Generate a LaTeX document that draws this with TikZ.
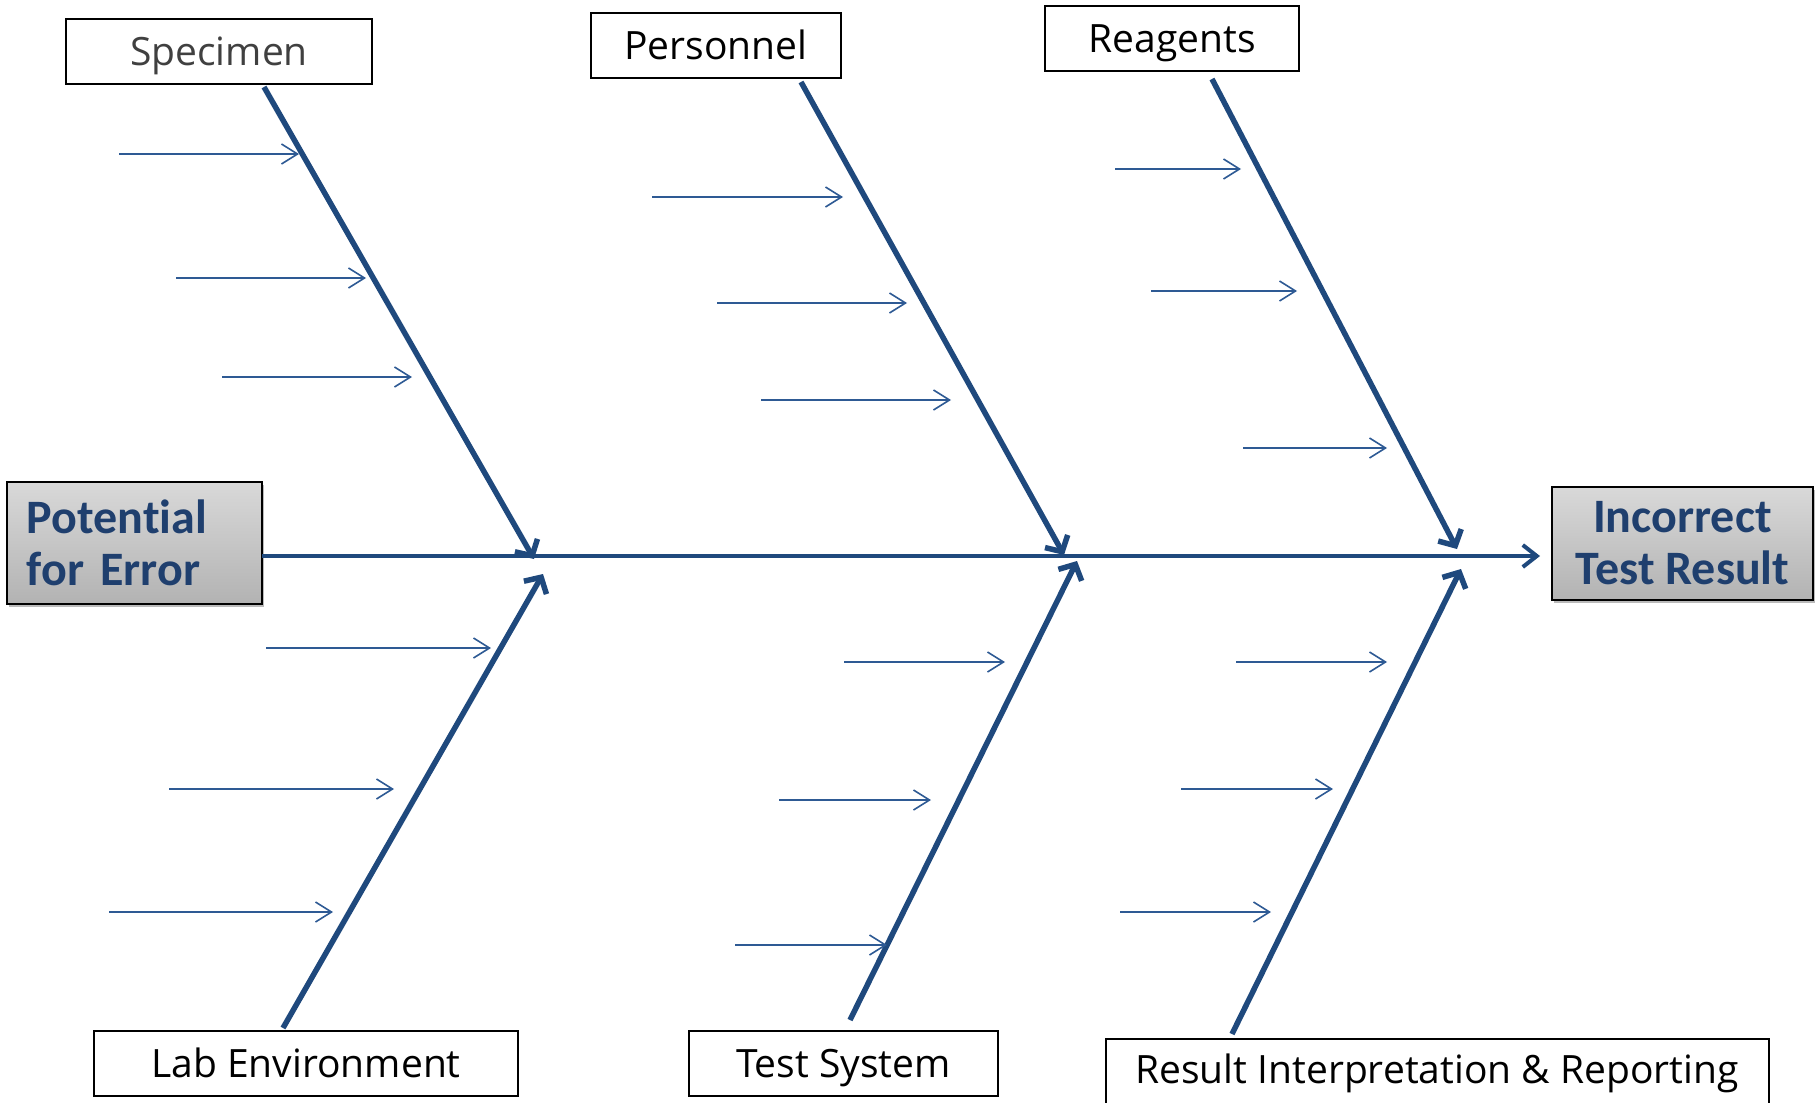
\documentclass[tikz,border=0pt]{standalone}
\usepackage{fontspec}
\setmainfont{Open Sans}
\newfontfamily\carlito{Carlito}[Ligatures=NoCommon]
\usetikzlibrary{arrows.meta,shadows}
\definecolor{bone}{HTML}{1F497D}
\definecolor{twig}{HTML}{2E5A94}
\definecolor{headtxt}{HTML}{1F3F6E}
\definecolor{spectxt}{HTML}{404040}
\begin{document}
\begin{tikzpicture}[x=1pt,y=-1pt,
  catbox/.style={draw=black, line width=1.8pt, fill=white, inner sep=0pt,
    minimum height=65pt, font=\fontsize{39}{44}\selectfont,
    text height=28pt, text depth=0pt},
  catlabel/.style={inner sep=0pt, font=\fontsize{39}{44}\selectfont,
    text height=28pt, text depth=0pt},
  headbox/.style={draw=black, line width=2pt, top color=black!15, bottom color=black!30,
    drop shadow={shadow xshift=2pt, shadow yshift=-3pt, fill=black!60, opacity=0.45},
    font=\carlito\bfseries\fontsize{48}{52}\selectfont, text=headtxt, inner sep=0pt},
  bonearrow/.style={draw=bone, line width=5.5pt, -{Straight Barb[length=12pt,width=26pt]}},
  spinearrow/.style={draw=bone, line width=4pt, -{Straight Barb[length=14pt,width=22pt]}},
  twigarrow/.style={draw=twig, line width=1.6pt, -{Straight Barb[length=16pt,width=20pt]}},
]
\useasboundingbox (0,0) rectangle (1816,1103);
\clip (0,0) rectangle (1816,1103);
\fill[white] (0,0) rectangle (1816,1103);

% head boxes
\node[headbox, minimum width=255pt, minimum height=122pt, align=left,
      text width=215pt] (pfe) at (134.5,543) {Potential\\for Error};
\node[headbox, minimum width=261pt, minimum height=113pt, align=center] (inc) at (1682.5,543.5) {Incorrect\\Test Result};

% category boxes
\node[catbox, minimum width=306pt, text=spectxt] (spec) at (219,51.5) {Specimen};
\node[catbox, minimum width=250pt] (pers) at (716,45.5) {Personnel};
\node[catbox, minimum width=254pt] (reag) at (1172,38.5) {Reagents};
\node[catbox, minimum width=424pt] (lab) at (306,1063.5) {Lab Environment};
\node[catbox, minimum width=309pt] (test) at (843.5,1063.5) {Test System};
\draw[line width=1.5pt] (1106,1039) rectangle (1769,1118);
\node[catlabel] (res) at (1437,1069) {Result Interpretation \& Reporting};

% spine
\coordinate (sp0) at (262,556);
\coordinate (sp1) at (1540,556);
\draw[spinearrow] (sp0) -- (sp1);

% bones
\coordinate (specS) at (264,87);   \coordinate (specT) at (534,559);
\coordinate (persS) at (801,82);   \coordinate (persT) at (1064,555);
\coordinate (reagS) at (1212,79);  \coordinate (reagT) at (1457,549);
\coordinate (labS)  at (283,1028); \coordinate (labT)  at (543,574);
\coordinate (testS) at (850,1020); \coordinate (testT) at (1077,561);
\coordinate (resS)  at (1232,1034);\coordinate (resT)  at (1461,569);
\foreach \b in {spec,pers,reag,lab,test,res}
  \draw[bonearrow] (\b S) -- (\b T);

% twigs
\foreach \n/\a/\c/\y in {
  1/119/299/154, 2/176/366/278, 3/222/412/377,
  4/652/843/197, 5/717/907/303, 6/761/951/400,
  7/1115/1241/169, 8/1151/1297/291, 9/1243/1387/448,
  10/266/491/648, 11/169/394/789, 12/109/333/912,
  13/844/1005/662, 14/779/931/800, 15/735/887/945,
  16/1236/1387/662, 17/1181/1333/789, 18/1120/1271/912}
{
  \coordinate (tw\n a) at (\a,\y);
  \coordinate (tw\n b) at (\c,\y);
  \draw[twigarrow] (tw\n a) -- (tw\n b);
}
\end{tikzpicture}
\end{document}
